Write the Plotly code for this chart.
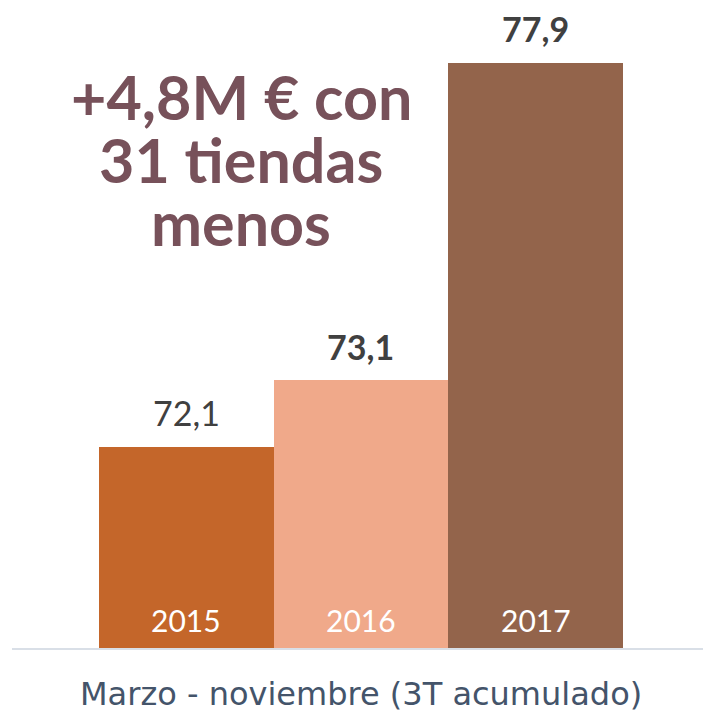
import plotly.graph_objects as go

years = ["2015", "2016", "2017"]
values = [72.1, 73.1, 77.9]
value_labels = ["72,1", "73,1", "77,9"]
label_bold = [False, True, True]
colors = ["#C4662A", "#F0A98A", "#93644B"]
headline = ["+4,8M € con", "31 tiendas", "menos"]
x_title = "Marzo - noviembre (3T acumulado)"

FONT = "Lato, 'Open Sans', sans-serif"
Y0, Y1 = 69.04, 78.85
xpos = list(range(len(years)))

fig = go.Figure()
fig.add_trace(go.Bar(
    x=xpos, y=values, width=1.0,
    marker=dict(color=colors, line=dict(width=0)),
    hoverinfo="skip",
))

for xi, v, lab, b, yr in zip(xpos, values, value_labels, label_bold, years):
    fig.add_annotation(
        x=xi, y=v, xref="x", yref="y", text=f"<b>{lab}</b>" if b else lab,
        showarrow=False, xanchor="center", yanchor="middle", yshift=34,
        font=dict(size=34, color="#404040", family=FONT),
    )
    fig.add_annotation(
        x=xi, y=Y0, xref="x", yref="y", text=yr,
        showarrow=False, xanchor="center", yanchor="middle", yshift=29,
        font=dict(size=30, color="white", family=FONT),
    )

for i, line in enumerate(headline):
    fig.add_annotation(
        text=f"<b>{line}</b>", xref="paper", yref="paper",
        x=(241 - 12) / 691, y=1, xanchor="center", yanchor="middle",
        yshift=-(96 + 63 * i), showarrow=False,
        font=dict(size=61, color="#77515A", family=FONT),
    )

fig.add_annotation(
    text=x_title, xref="paper", yref="paper", x=(361 - 12) / 691, y=0,
    xanchor="center", yanchor="middle", yshift=-45, showarrow=False,
    font=dict(size=32, color="#44546A", family="'DejaVu Sans', 'Open Sans', sans-serif"),
)

fig.update_layout(
    width=703, height=712,
    margin=dict(l=12, r=0, t=0, b=63, autoexpand=False),
    paper_bgcolor="white", plot_bgcolor="white",
    showlegend=False, bargap=0,
    xaxis=dict(range=[-0.998, 2.958], showticklabels=False, showgrid=False,
               zeroline=False, showline=False, ticks="", fixedrange=True),
    yaxis=dict(range=[Y0, Y1], showticklabels=False, showgrid=False,
               zeroline=False, showline=False, ticks="", fixedrange=True),
)
fig.add_shape(type="line", xref="paper", yref="paper", x0=0, x1=1, y0=0, y1=0,
              line=dict(color="#D9DFE7", width=2), layer="above")

fig.write_html(
    "out.html",
    config={"displayModeBar": False},
    post_script="document.body.style.margin='0';document.body.style.overflow='hidden';",
)
